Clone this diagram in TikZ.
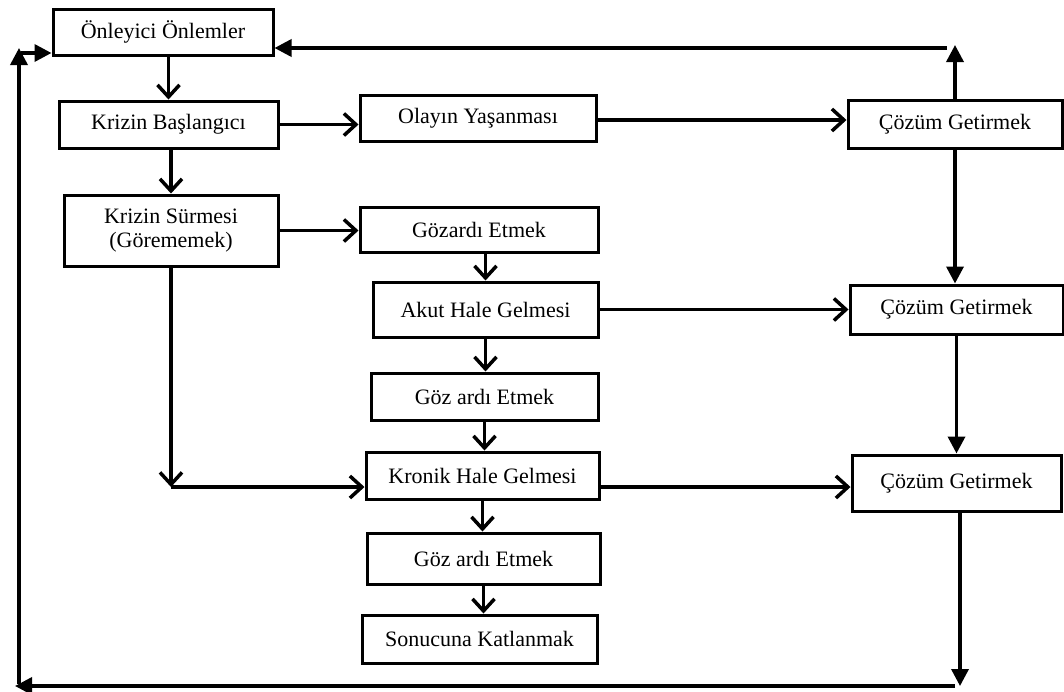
\documentclass[tikz,border=0pt]{standalone}
\usepackage{fontspec}
\setmainfont{Liberation Serif}
\usetikzlibrary{arrows.meta}
\begin{document}
\begin{tikzpicture}[x=1pt,y=-1pt,
  box/.style={draw,line width=3pt,inner sep=0pt,align=center,
    font=\fontsize{22}{24}\selectfont},
  flow/.style={line width=3.5pt,-{Straight Barb[length=12pt,width=22pt]}},
  fb/.style={line width=3.5pt,-{Triangle[length=17pt,width=17pt]}}]
\useasboundingbox (0,0) rectangle (1064,691);
% left column
\node[box,minimum width=220pt,minimum height=46pt] (A) at (163,32) {Önleyici Önlemler};
\node[box,minimum width=219pt,minimum height=47pt] (B) at (168.5,124.5) {Krizin Başlangıcı};
\node[box,minimum width=214pt,minimum height=71pt] (C) at (171,230.5) {Krizin Sürmesi\\(Görememek)};
% middle column
\node[box,minimum width=236pt,minimum height=46pt] (D) at (478,118) {Olayın Yaşanması};
\node[box,minimum width=238pt,minimum height=45pt] (F) at (479,229.5) {Gözardı Etmek};
\node[box,minimum width=225pt,minimum height=55pt] (G) at (485.5,309.5) {Akut Hale Gelmesi};
\node[box,minimum width=227pt,minimum height=47pt] (H) at (484.5,396.5) {Göz ardı Etmek};
\node[box,minimum width=233pt,minimum height=47pt] (I) at (482.5,475.5) {Kronik Hale Gelmesi};
\node[box,minimum width=233pt,minimum height=51pt] (J) at (483.5,558.5) {Göz ardı Etmek};
\node[box,minimum width=235pt,minimum height=48pt] (K) at (479.5,639) {Sonucuna Katlanmak};
% right column
\node[box,minimum width=214pt,minimum height=48pt] (E) at (955,124) {Çözüm Getirmek};
\node[box,minimum width=213pt,minimum height=49pt] (L) at (956.5,309.5) {Çözüm Getirmek};
\node[box,minimum width=209pt,minimum height=56pt] (M) at (956.5,483) {Çözüm Getirmek};
% main flow
\draw[flow] (A.south -| B.north) -- (B.north);
\draw[flow] (B.south -| C.north) -- (C.north);
\draw[flow] (B.east) -- (B.east -| D.west);
\draw[flow] ([yshift=-2pt]D.east) -- ([yshift=-2pt]D.east -| E.west);
\draw[flow] (C.east) -- (C.east -| F.west);
\draw[flow] (F.south -| G.north) -- (G.north);
\draw[flow] (G.south) -- (G.south |- H.north);
\draw[flow] (G.east) -- (L.west);
\draw[flow] (H.south) -- (H.south |- I.north);
\coordinate (bend) at (171,487);
\draw[flow] (C.south) -- (bend);
\draw[flow] (bend) -- (bend -| I.west);
\draw[flow] (bend -| I.east) -- (bend -| M.west);
\draw[flow] (I.south) -- (I.south |- J.north);
\draw[flow] (J.south) -- (J.south |- K.north);
% feedback loop
\draw[fb] (E.south) -- (E.south |- L.north);
\draw[fb] (L.south) -- (L.south |- M.north);
\coordinate (tr) at (955,45);
\coordinate (trh) at (947,48);
\draw[fb] (E.north) -- (tr);
\draw[fb] (trh) -- (trh -| A.east);
\coordinate (br) at (960,686);
\coordinate (brh) at (955,686);
\coordinate (bl) at (15,686);
\draw[fb] (M.south -| br) -- (br);
\draw[fb] (brh) -- (bl);
\coordinate (lb) at (19,684);
\coordinate (lt) at (19,48);
\draw[fb] (lb) -- (lt);
\coordinate (la) at (21,53);
\draw[fb] (la) -- (la -| A.west);
\end{tikzpicture}
\end{document}
